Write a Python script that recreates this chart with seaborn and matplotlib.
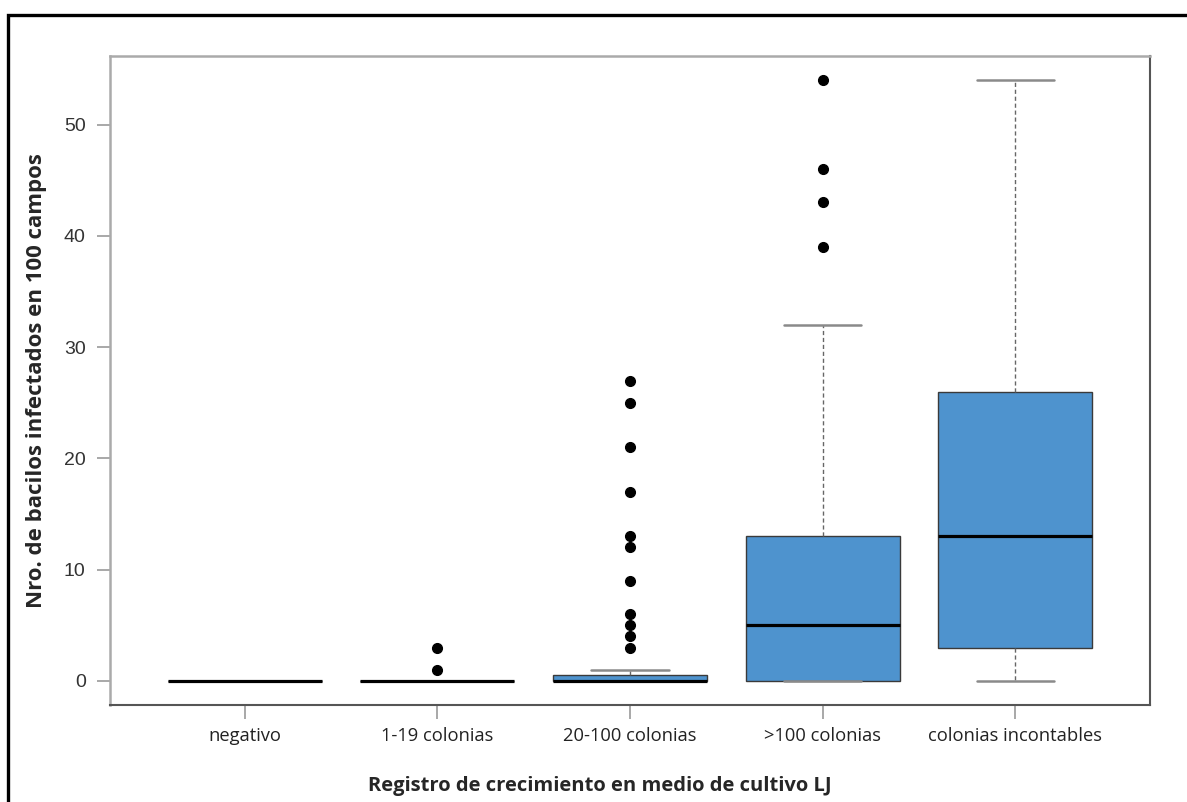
import matplotlib
matplotlib.use("Agg")
import matplotlib.pyplot as plt
from matplotlib.patches import Rectangle
import seaborn as sns
import pandas as pd

# Category labels (culture growth on LJ medium)
categories = ["negativo", "1-19 colonias", "20-100 colonias", ">100 colonias",
              "colonias incontables"]

# Bacilli counts per 100 fields, one list per growth category
negativo = [0] * 12
col_1_19 = [0] * 10 + [1, 3]
col_20_100 = [0] * 38 + [1, 1] + [3, 4, 5, 6, 9, 12, 13, 17, 21, 25, 27]
col_mas_100 = [0, 0, 0, 0, 0, 0, 1, 2, 3, 4, 5, 7, 8, 10, 12, 13, 32,
               39, 43, 46, 54]
col_incontables = [0, 2, 3, 8, 13, 20, 26, 40, 54]

y_ticks = [0, 10, 20, 30, 40, 50]

groups = [negativo, col_1_19, col_20_100, col_mas_100, col_incontables]
df = pd.DataFrame({
    "grupo": [c for c, g in zip(categories, groups) for _ in g],
    "valor": [v for g in groups for v in g],
})

sns.set_style("white")
plt.rcParams["font.family"] = ["Liberation Sans", "DejaVu Sans"]

fig = plt.figure(figsize=(11.87, 8.02), dpi=100)
ax = fig.add_axes([0.0927, 0.1209, 0.8761, 0.8093])

box_color = "#4E93CE"
sns.boxplot(
    data=df, x="grupo", y="valor", order=categories, ax=ax,
    color=box_color, saturation=1, width=0.8, whis=1.5,
    linecolor="#3a3a3a", linewidth=1.0,
    medianprops=dict(color="black", linewidth=2.3),
    whiskerprops=dict(color="#666666", linestyle=(0, (3, 2)), linewidth=1.0),
    capprops=dict(color="#8a8a8a", linewidth=1.8),
    flierprops=dict(marker="o", markerfacecolor="black", markeredgecolor="black",
                    markersize=7),
    capwidths=0.4,
)

ax.set_xlim(-0.7, 4.7)
ax.set_ylim(-2.16, 56.16)
ax.set_yticks(y_ticks)
ax.set_yticklabels([str(t) for t in y_ticks], fontsize=14, color="#333333",
                   family=["Liberation Sans", "DejaVu Sans"])
ax.set_xticks(range(len(categories)))
ax.set_xticklabels(categories, fontsize=13.2, color="#222222",
                   family=["Open Sans", "DejaVu Sans"])
ax.tick_params(axis="y", direction="out", length=9.5, width=1.2, color="#999999",
               pad=8, left=True)
ax.tick_params(axis="x", direction="out", length=10, width=1.2, color="#999999",
               pad=6, bottom=True)

for side in ["left", "top"]:
    ax.spines[side].set_color("#aaaaaa")
    ax.spines[side].set_linewidth(1.8)
for side in ["right", "bottom"]:
    ax.spines[side].set_color("#555555")
    ax.spines[side].set_linewidth(1.5)

ax.set_xlabel("")
ax.set_ylabel("Nro. de bacilos infectados en 100 campos", fontsize=16,
              fontweight="bold", family=["Open Sans", "DejaVu Sans"],
              labelpad=12)
fig.text(0.505, 0.020, "Registro de crecimiento en medio de cultivo LJ",
         ha="center", va="center", fontsize=14.5, fontweight="bold",
         family=["Open Sans", "DejaVu Sans"])

# Outer frame around the figure
fig.patches.append(Rectangle((8 / 1187, -0.2), 1.2, 0.2 + 1 - 15 / 802,
                             transform=fig.transFigure, fill=False,
                             edgecolor="black", linewidth=2.4))

fig.savefig("out.png", dpi=100)
